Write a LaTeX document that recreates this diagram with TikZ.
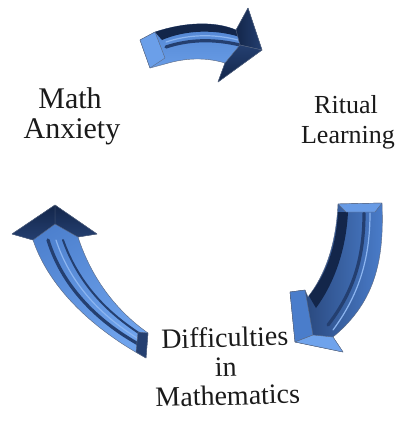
\documentclass[tikz,border=0pt]{standalone}
\usepackage{fontspec}
\setmainfont{Liberation Serif}
\definecolor{aLight}{HTML}{6FA3EC}
\definecolor{aMid}{HTML}{4A7DCB}
\definecolor{aDark}{HTML}{243F70}
\definecolor{aNavy}{HTML}{13264A}
\definecolor{txt}{HTML}{1A1A1A}
\tikzset{
  lbl/.style={anchor=base, inner sep=0pt, text=txt, font=\fontsize{30}{30}\selectfont},
  lblsmall/.style={lbl, font=\fontsize{26}{26}\selectfont},
  lblbottom/.style={lbl, font=\fontsize{28}{28}\selectfont, rotate=1.5},
  edge/.style={draw=aNavy!70, line width=0.4pt, line join=round},
  groove/.style={draw=aDark, line width=3.2pt, line cap=round},
  glint/.style={draw=aLight!80, line width=1.2pt, line cap=round},
}
\begin{document}
\begin{tikzpicture}[x=1pt,y=-1pt]
\useasboundingbox (0,0) rectangle (396,421);
\fill[white] (0,0) rectangle (396,421);

% ---------- top arrow (Math Anxiety -> Ritual Learning)
\shade[edge, top color=aMid, bottom color=aLight]
  (140,40) -- (155,32) .. controls (185,22) and (215,21) .. (236,30)
  -- (248,8) -- (262,50) -- (218,82) -- (225,63)
  .. controls (205,57) and (185,58) .. (165,64) -- (150,68) -- cycle;
\fill[aNavy] (155,32) .. controls (185,22) and (215,21) .. (236,30)
  -- (240,37) .. controls (215,29) and (185,30) .. (162,40) -- cycle;
\draw[groove] (166,47) .. controls (190,39) and (215,39) .. (240,45);
\draw[glint] (166,42) .. controls (190,34) and (215,34) .. (238,40);
\shade[left color=aNavy, right color=aDark, edge] (236,30) -- (248,8) -- (262,50) -- (240,45) -- cycle;
\shade[top color=aDark, bottom color=aNavy, edge] (240,45) -- (262,50) -- (218,82) -- (225,63) -- cycle;
\fill[aLight!90!aMid, edge] (140,40) -- (155,32) -- (165,58) -- (150,68) -- cycle;

% ---------- right arrow (Ritual Learning -> Difficulties)
\shade[edge, left color=aDark, right color=aMid]
  (338,204) -- (382,203) .. controls (384,255) and (378,300) .. (333,337)
  -- (343,352) -- (295,342) -- (290,292) -- (305,290) -- (308,297)
  .. controls (325,275) and (336,245) .. (338,204) -- cycle;
\fill[aNavy] (338,212) .. controls (336,248) and (326,275) .. (309,296)
  -- (316,308) .. controls (333,285) and (346,252) .. (348,212) -- cycle;
\draw[groove] (364,213) .. controls (364,255) and (355,290) .. (328,325);
\draw[glint] (370,213) .. controls (370,255) and (361,292) .. (333,330);
\fill[aLight!80!aMid, edge] (338,204) -- (382,203) -- (375,212) -- (346,212) -- cycle;
\fill[aMid, edge] (290,292) -- (305,290) -- (313,335) -- (295,342) -- cycle;
\fill[aLight, edge] (295,342) -- (313,335) -- (333,337) -- (343,352) -- cycle;

% ---------- left arrow (Difficulties -> Math Anxiety)
\shade[edge, left color=aMid, right color=aLight, shading angle=30]
  (55,205) -- (97,234) -- (78,237) .. controls (92,280) and (118,312) .. (148,333)
  -- (146,358) .. controls (95,330) and (50,290) .. (33,240) -- (12,234) -- cycle;
\draw[groove] (48,240) .. controls (62,285) and (95,320) .. (140,345);
\draw[groove, line width=2pt] (63,240) .. controls (78,282) and (105,312) .. (145,337);
\draw[glint] (56,240) .. controls (70,283) and (100,316) .. (142,341);
\shade[edge, top color=aNavy, bottom color=aDark] (55,205) -- (97,234) -- (78,237) -- (55,224) -- cycle;
\shade[edge, top color=aNavy, bottom color=aDark] (55,205) -- (55,224) -- (33,240) -- (12,234) -- cycle;
\fill[aDark, edge] (148,333) -- (146,358) -- (136,352) -- (138,332) -- cycle;

% ---------- labels
\node[lbl] (ma1) at (70,108) {Math};
\node[lbl] (ma2) at (72,138) {Anxiety};
\node[lblsmall] (rl1) at (346,113) {Ritual};
\node[lblsmall] (rl2) at (348,143) {Learning};
\node[lblbottom] (dm1) at (225,347) {Difficulties};
\node[lblbottom] (dm2) at (226,376) {in};
\node[lblbottom] (dm3) at (228,405) {Mathematics};
\end{tikzpicture}
\end{document}
